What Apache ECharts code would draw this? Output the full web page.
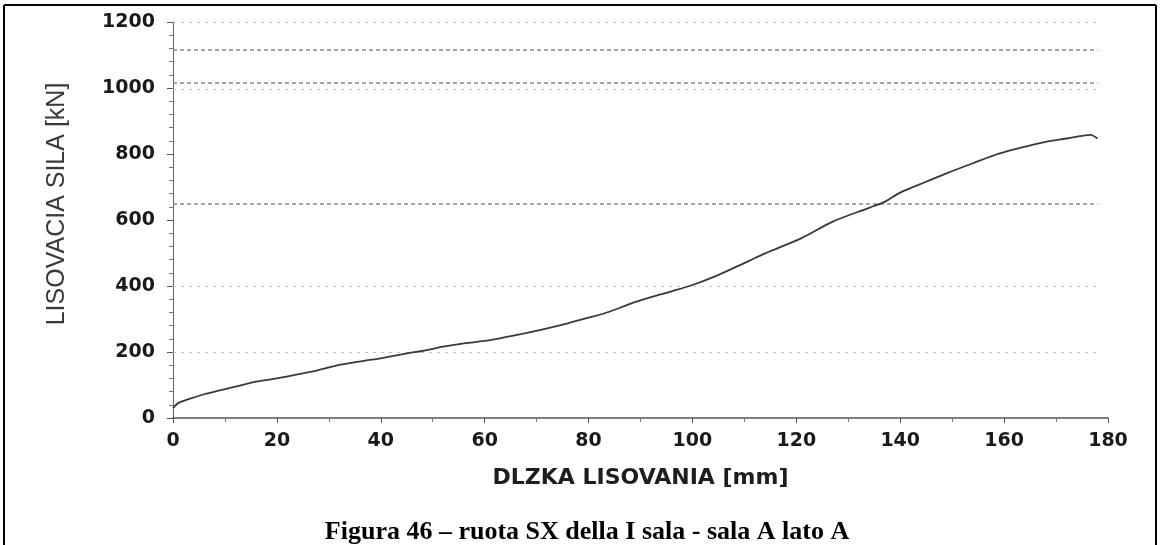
<!DOCTYPE html>
<html>
<head>
<meta charset="utf-8">
<script src="https://cdn.jsdelivr.net/npm/echarts@6/dist/echarts.min.js"></script>
<style>
html,body{margin:0;padding:0;background:#fff;}
#chart{width:1160px;height:545px;}
</style>
</head>
<body>
<div id="chart"></div>
<script>
// Data: pressing length (mm) vs pressing force (kN)
const lengthMm = [0, 1, 3, 6, 8, 12, 16, 20, 25, 28, 32, 37, 40, 45, 48, 52, 56, 61, 66, 71, 76, 80, 84, 88, 92, 96, 100, 104, 108, 111, 114, 121, 127, 134, 137, 140, 145, 149, 154, 159, 164, 168, 172, 175, 176.6, 178];
const forceKn  = [30, 45, 57, 72, 80, 95, 110, 120, 135, 145, 161, 174, 181, 196, 203, 216, 226, 236, 251, 268, 287, 304, 322, 346, 366, 384, 403, 427, 455, 477, 499, 545, 595, 637, 655, 683, 716, 742, 772, 801, 822, 837, 847, 855, 858, 847];
// Reference (grid) lines visible in the scan, in kN
const strongRefLines = [1115, 1017, 650];
const faintRefLines = [1200, 997, 400, 200];
const refLineEnd = 178;
const xTicks = [0, 20, 40, 60, 80, 100, 120, 140, 160, 180];
const yTicks = [0, 200, 400, 600, 800, 1000, 1200];
const xTitle = 'DLZKA LISOVANIA [mm]';
const yTitle = 'LISOVACIA SILA [kN]';
const caption = 'Figura 46 – ruota SX della I sala - sala A lato A';

const points = lengthMm.map((x, i) => [x, forceKn[i]]);
const mkLines = (vals) => vals.map(v => [{coord: [0, v]}, {coord: [refLineEnd, v]}]);

const chart = echarts.init(document.getElementById('chart'), null, {renderer: 'canvas'});
chart.setOption({
  animation: false,
  backgroundColor: '#ffffff',
  title: {
    text: caption,
    left: 582,
    textAlign: 'center',
    top: 514,
    textStyle: {fontFamily: 'Liberation Serif', fontWeight: 'bold', fontSize: 26, color: '#000'}
  },
  grid: {left: 173, right: 52, top: 22, bottom: 127},
  xAxis: {
    type: 'value', min: 0, max: 180, interval: 20,
    name: xTitle, nameLocation: 'middle', nameGap: 49,
    nameTextStyle: {fontFamily: 'DejaVu Sans', fontWeight: 'bold', fontSize: 22, color: '#1e1e1e'},
    axisLine: {show: true, lineStyle: {color: '#555', width: 1.5}},
    axisTick: {show: true, inside: false, length: 5, lineStyle: {color: '#555'}},
    minorTick: {show: true, splitNumber: 2, length: 4, lineStyle: {color: '#777'}},
    axisLabel: {margin: 14, fontFamily: 'DejaVu Sans', fontWeight: 'bold', fontSize: 19, color: '#1a1a1a',
      formatter: v => xTicks.includes(v) ? String(v) : ''},
    splitLine: {show: false}
  },
  yAxis: {
    type: 'value', min: 0, max: 1200, interval: 200,
    name: yTitle, nameLocation: 'middle', nameGap: 103,
    nameTextStyle: {fontFamily: 'Liberation Sans', fontSize: 25, color: '#3a3a3a', padding: [0, 0, 0, 32]},
    axisLine: {show: true, lineStyle: {color: '#666', width: 1}},
    axisTick: {show: true, inside: false, length: 6, lineStyle: {color: '#555'}},
    minorTick: {show: true, splitNumber: 5, length: 4, lineStyle: {color: '#777'}},
    axisLabel: {margin: 18, fontFamily: 'DejaVu Sans', fontWeight: 'bold', fontSize: 19, color: '#1a1a1a',
      formatter: v => yTicks.includes(v) ? String(v) : ''},
    splitLine: {show: false}
  },
  series: [
    {
      type: 'line', data: points, showSymbol: false, smooth: 0.3,
      lineStyle: {color: '#3a3a3a', width: 1.8},
      z: 5,
      markLine: {
        silent: true, symbol: 'none', label: {show: false},
        lineStyle: {color: '#8a8a8a', type: [4, 3], width: 1.5},
        data: mkLines(strongRefLines)
      }
    },
    {
      type: 'line', data: [],
      markLine: {
        silent: true, symbol: 'none', label: {show: false},
        lineStyle: {color: '#c4c4c4', type: [3, 5], width: 1.2},
        data: mkLines(faintRefLines)
      }
    }
  ],
  graphic: [
    {type: 'line', shape: {x1: 4, y1: 5, x2: 1156, y2: 5}, style: {stroke: '#000', lineWidth: 2}},
    {type: 'line', shape: {x1: 4, y1: 5, x2: 4, y2: 545}, style: {stroke: '#000', lineWidth: 2}},
    {type: 'line', shape: {x1: 1156, y1: 5, x2: 1156, y2: 545}, style: {stroke: '#000', lineWidth: 2}}
  ]
});
</script>
</body>
</html>
